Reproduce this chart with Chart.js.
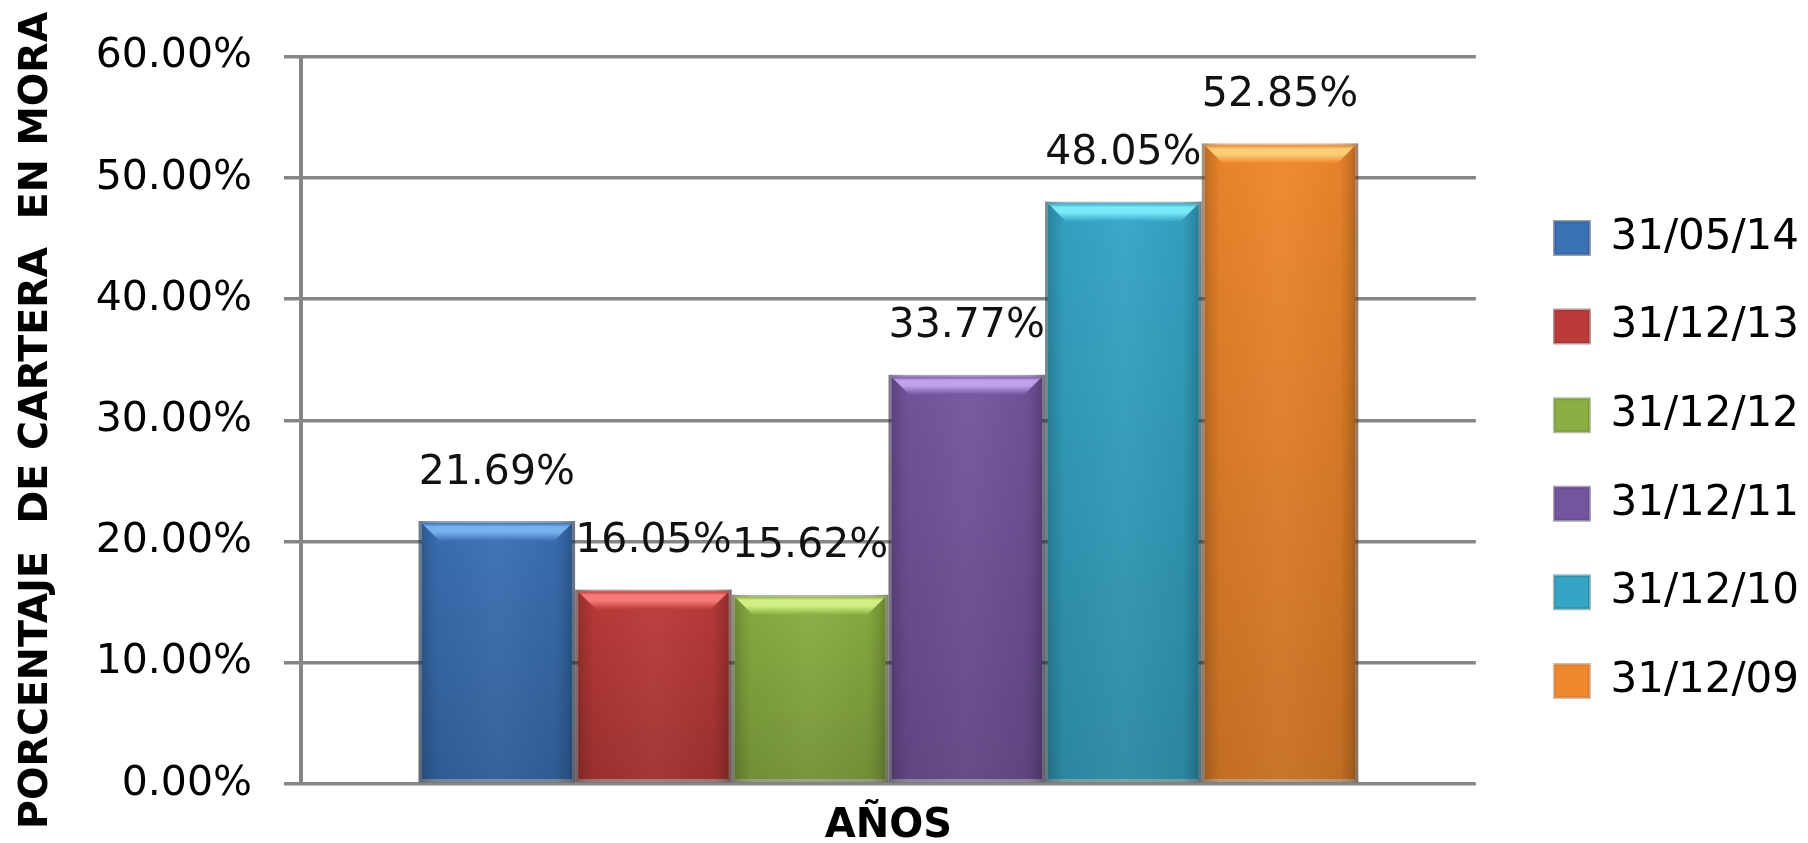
<!DOCTYPE html>
<html>
<head>
<meta charset="utf-8">
<script src="https://cdn.jsdelivr.net/npm/chart.js@4.4.1/dist/chart.umd.min.js"></script>
<style>
html,body{margin:0;padding:0;background:#ffffff;}
#wrap{width:1808px;height:843px;}
canvas{display:block;}
</style>
</head>
<body>
<div id="wrap"><canvas id="c" width="1808" height="843"></canvas></div>
<script>
// ---- data ----
const categories = ['AÑOS'];
const seriesNames = ['31/05/14', '31/12/13', '31/12/12', '31/12/11', '31/12/10', '31/12/09'];
const series1 = [21.69];
const series2 = [16.05];
const series3 = [15.62];
const series4 = [33.77];
const series5 = [48.05];
const series6 = [52.85];
const seriesValues = [series1, series2, series3, series4, series5, series6];
const yMin = 0, yMax = 60, yStep = 10;
const yTitle = 'PORCENTAJE  DE CARTERA  EN MORA';

// ---- styles ----
const fillColors  = ['#3A70B4', '#BC3B39', '#8BAF42', '#75549E', '#35A5C5', '#EF872C'];
const edgeColors  = ['rgba(60,85,125,0.55)', 'rgba(140,60,58,0.55)', 'rgba(110,130,60,0.5)', 'rgba(90,70,120,0.5)', 'rgba(50,120,140,0.5)', 'rgba(190,120,60,0.5)'];
const lightColors = ['#7FB8F6', '#FF807C', '#DCF88A', '#CAAAF4', '#7FF2FF', '#FFD67E'];
const gridColor = '#868686';

Chart.defaults.font.family = '"DejaVu Sans", Verdana, sans-serif';
Chart.defaults.color = '#000000';

const bevelAndLabels = {
  id: 'bevelAndLabels',
  afterDatasetsDraw(chart) {
    const ctx = chart.ctx;
    chart.data.datasets.forEach((ds, i) => {
      const meta = chart.getDatasetMeta(i);
      meta.data.forEach((el, j) => {
        const w = el.width, l = el.x - w / 2, r = el.x + w / 2, t = el.y, b = el.base;
        ctx.save();
        // side shading
        let g = ctx.createLinearGradient(l, 0, r, 0);
        g.addColorStop(0, 'rgba(0,0,0,0.26)');
        g.addColorStop(0.05, 'rgba(0,0,0,0.14)');
        g.addColorStop(0.12, 'rgba(0,0,0,0.03)');
        g.addColorStop(0.5, 'rgba(255,255,255,0.04)');
        g.addColorStop(0.88, 'rgba(0,0,0,0.04)');
        g.addColorStop(0.95, 'rgba(0,0,0,0.16)');
        g.addColorStop(1, 'rgba(0,0,0,0.30)');
        ctx.fillStyle = g;
        ctx.fillRect(l, t, w, b - t);
        // vertical shading
        g = ctx.createLinearGradient(0, t, 0, b);
        g.addColorStop(0, 'rgba(0,0,0,0)');
        g.addColorStop(1, 'rgba(0,0,0,0.16)');
        ctx.fillStyle = g;
        ctx.fillRect(l, t, w, b - t);
        // top bevel
        const bv = 18;
        ctx.beginPath();
        ctx.moveTo(l + 3, t + 2);
        ctx.lineTo(r - 3, t + 2);
        ctx.lineTo(r - 3 - bv, t + 2 + bv);
        ctx.lineTo(l + 3 + bv, t + 2 + bv);
        ctx.closePath();
        g = ctx.createLinearGradient(0, t + 2, 0, t + bv + 2);
        g.addColorStop(0, fillColors[i]);
        g.addColorStop(0.2, lightColors[i]);
        g.addColorStop(0.5, lightColors[i]);
        g.addColorStop(1, fillColors[i]);
        ctx.globalAlpha = 0.9;
        ctx.fillStyle = g;
        ctx.fill();
        ctx.restore();

        // value label
        const v = ds.data[j];
        ctx.save();
        ctx.font = '41px "DejaVu Sans"';
        ctx.fillStyle = '#111111';
        ctx.textAlign = 'center';
        ctx.textBaseline = 'middle';
        ctx.fillText(v.toFixed(2) + '%', el.x, t - 48);
        ctx.restore();
      });
    });
  }
};

const datasets = seriesNames.map((name, i) => ({
  label: name,
  data: seriesValues[i],
  backgroundColor: fillColors[i],
  borderColor: edgeColors[i],
  borderWidth: 3,
  borderSkipped: false
}));

new Chart(document.getElementById('c'), {
  type: 'bar',
  data: { labels: categories, datasets },
  plugins: [bevelAndLabels],
  options: {
    responsive: false,
    animation: false,
    layout: { padding: { left: 7, top: 56.7, right: 0, bottom: 0 } },
    datasets: { bar: { categoryPercentage: 0.8, barPercentage: 1.0 } },
    plugins: {
      tooltip: { enabled: false },
      legend: {
        position: 'right',
        align: 'center',
        title: { display: true, text: '', padding: 0, font: { size: 16 } },
        labels: {
          font: { size: 42, family: '"DejaVu Sans"' },
          color: '#000000',
          boxWidth: 35,
          boxHeight: 33,
          padding: 46.6
        }
      }
    },
    scales: {
      x: {
        type: 'category',
        grid: { display: false, drawTicks: false },
        border: { display: false },
        ticks: {
          padding: 19,
          font: { size: 40, weight: 'bold', family: '"DejaVu Sans"' },
          color: '#000000'
        },
        afterFit(s) { s.height = 59; }
      },
      y: {
        min: yMin,
        max: yMax,
        position: 'left',
        grid: { color: gridColor, lineWidth: 3.5, tickLength: 17, tickColor: gridColor },
        border: { display: true, color: gridColor, width: 4 },
        ticks: {
          stepSize: yStep,
          padding: 32,
          font: { size: 41, family: '"DejaVu Sans"' },
          color: '#000000',
          callback: v => Number(v).toFixed(2) + '%'
        },
        title: {
          display: true,
          text: yTitle,
          font: { size: 39.5, weight: 'bold', family: '"DejaVu Sans"' },
          color: '#000000',
          padding: { top: 6, bottom: 0 }
        },
        afterFit(s) { s.width = 294; }
      },
      yR: {
        position: 'right',
        display: true,
        grid: { display: false, drawTicks: false },
        border: { display: false },
        ticks: { display: false },
        afterFit(s) { s.width = 32; }
      }
    }
  }
});
</script>
</body>
</html>
